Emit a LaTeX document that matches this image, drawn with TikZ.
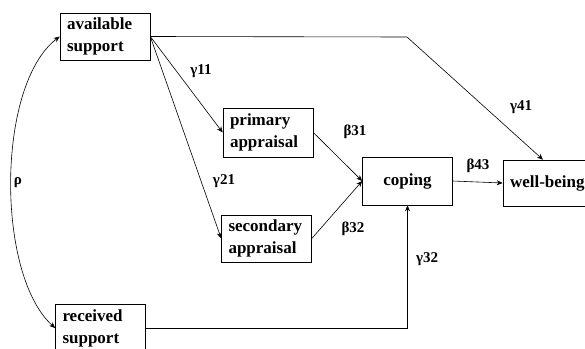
\documentclass[tikz,border=0pt]{standalone}
\usepackage{fontspec}
\setmainfont{Liberation Serif}
\usetikzlibrary{arrows.meta}

\tikzset{
  var/.style={draw,line width=0.6pt,rectangle,minimum width=90pt,minimum height=47pt,
    inner xsep=7pt,text width=76pt,align=left,font=\bfseries\fontsize{17}{22}\selectfont},
  link/.style={line width=0.6pt,-{Stealth[length=6pt,width=5pt]}},
  coef/.style={font=\bfseries\fontsize{15}{16}\selectfont}
}

\begin{document}
\begin{tikzpicture}[x=1pt,y=-1pt]
  \useasboundingbox (0,0) rectangle (585,348);

  % variables
  \node[var] (avail) at (105,36.5) {available\\support};
  \node[var,minimum height=49pt] (prim) at (268,132.5) {primary\\appraisal};
  \node[var] (sec) at (266.5,238.5) {secondary\\appraisal};
  \node[var,align=center,minimum height=48pt] (cope) at (407.5,181) {coping};
  \node[var,minimum height=46pt] (well) at (548,183) {well-being};
  \node[var] (recv) at (100.5,328) {received\\support};
  \coordinate (bend) at (407,37);

  % paths
  \draw[link] (avail.east) -- (bend) -- ([xshift=-5pt]well.north);
  \draw[link] (avail.east) -- (prim.west);
  \draw[link] (avail.east) -- (sec.west);
  \draw[link] (prim.east) -- (cope.west);
  \draw[link] (sec.east) -- (cope.west);
  \draw[link] (cope.east) -- (well.west);
  \draw[link] (recv.east) -| (cope.south);
  \draw[link,{Stealth[length=6pt,width=5pt]}-{Stealth[length=6pt,width=5pt]}]
       (avail.west) .. controls (-4,85) and (-4,275) .. (recv.west);

  % coefficients
  \node[coef] (g11) at (201,71) {γ11};
  \node[coef] (g21) at (224,181) {γ21};
  \node[coef] (g41) at (521,107) {γ41};
  \node[coef] (b31) at (355,132) {β31};
  \node[coef] (b32) at (353,229) {β32};
  \node[coef] (b43) at (478,166) {β43};
  \node[coef] (g32) at (427,259) {γ32};
  \node[coef] (rho) at (18,183) {ρ};
\end{tikzpicture}
\end{document}
